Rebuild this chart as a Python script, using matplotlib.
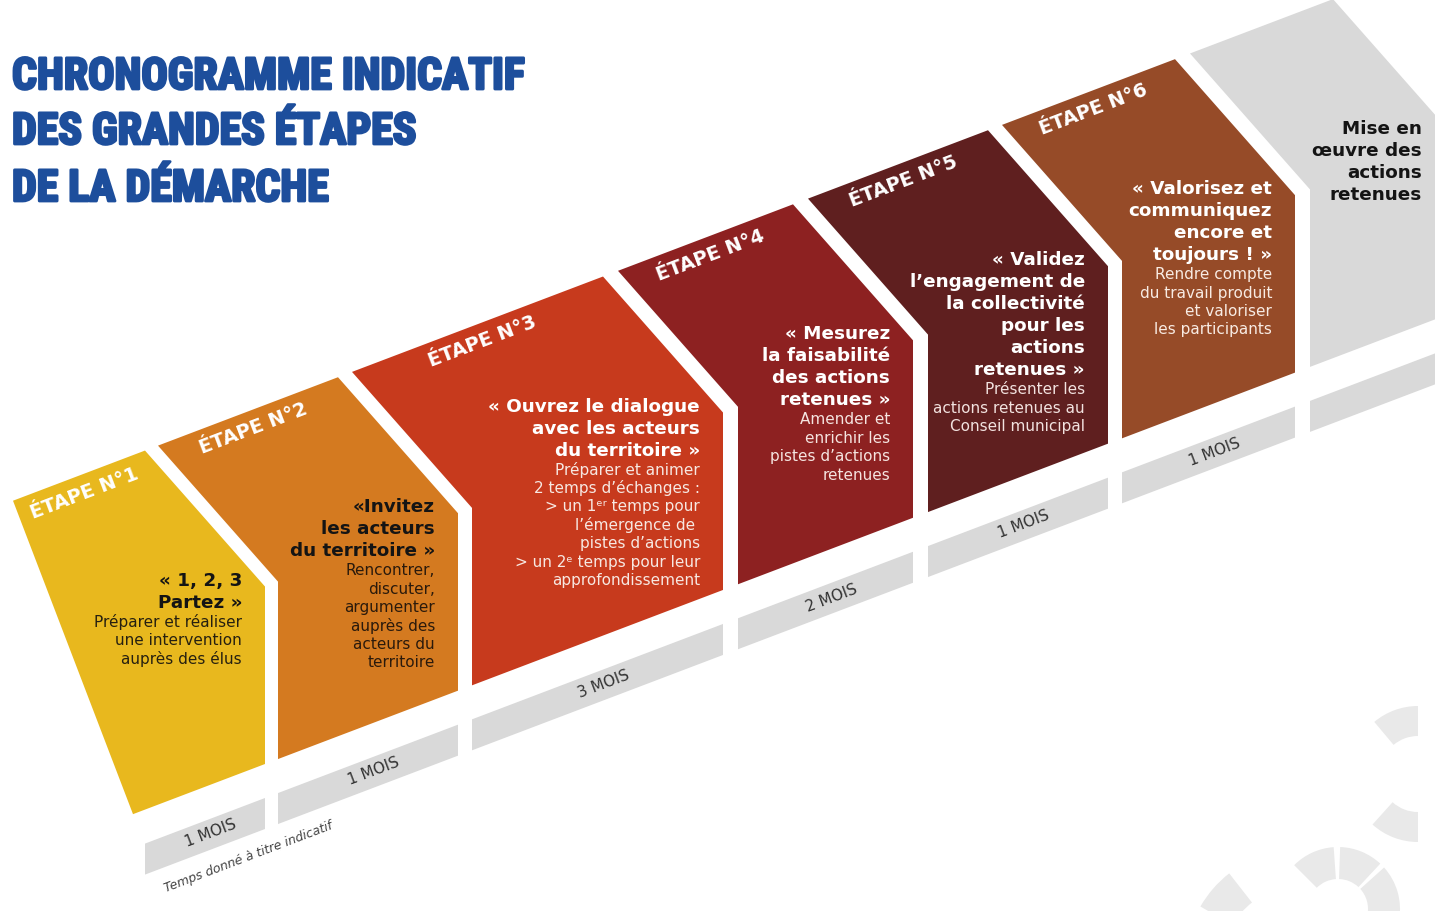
import math
import matplotlib
matplotlib.use("Agg")
import matplotlib.pyplot as plt
from matplotlib import font_manager as fm
from matplotlib.patches import Polygon, Wedge
import matplotlib.patheffects as pe

# ---------------- data ----------------
title_lines = ["CHRONOGRAMME INDICATIF", "DES GRANDES ÉTAPES", "DE LA DÉMARCHE"]

step_labels = ["ÉTAPE N°1", "ÉTAPE N°2", "ÉTAPE N°3", "ÉTAPE N°4",
               "ÉTAPE N°5", "ÉTAPE N°6", ""]

step_headlines = [
    ["« 1, 2, 3", "Partez »"],
    ["«Invitez", "les acteurs", "du territoire »"],
    ["« Ouvrez le dialogue", "avec les acteurs", "du territoire »"],
    ["« Mesurez", "la faisabilité", "des actions", "retenues »"],
    ["« Validez", "l’engagement de", "la collectivité", "pour les",
     "actions", "retenues »"],
    ["« Valorisez et", "communiquez", "encore et", "toujours ! »"],
    ["Mise en", "œuvre des", "actions", "retenues"],
]

step_details = [
    ["Préparer et réaliser", "une intervention", "auprès des élus"],
    ["Rencontrer,", "discuter,", "argumenter", "auprès des", "acteurs du",
     "territoire"],
    ["Préparer et animer", "2 temps d’échanges :", "> un 1ᵉʳ temps pour",
     "l’émergence de ", "pistes d’actions", "> un 2ᵉ temps pour leur",
     "approfondissement"],
    ["Amender et", "enrichir les", "pistes d’actions", "retenues"],
    ["Présenter les", "actions retenues au", "Conseil municipal"],
    ["Rendre compte", "du travail produit", "et valoriser", "les participants"],
    [],
]

durations_months = [1, 1, 3, 2, 1, 1, None]
duration_unit = "MOIS"
footnote = "Temps donné à titre indicatif"

# ---------------- layout / style ----------------
W, H = 1435, 912
step_left = [13, 278, 472, 738, 928, 1122, 1310]
step_right = [265, 458, 723, 913, 1108, 1295, 1453]
bar_left = [145, 278, 472, 738, 928, 1122, 1310]
step_colors = ["#E8B81E", "#D47A20", "#C73A1D", "#8D2121", "#5F1F1F",
               "#964B28", "#D9D9D9"]
headline_colors = ["#141414", "#141414", "white", "white", "white", "white",
                   "#141414"]
detail_colors = ["#262010", "#2a1a0c", "#f7e8e2", "#f5e4e0", "#f2e2df",
                 "#f8ebe3", "#141414"]
bar_color = "#D9D9D9"
title_color = "#1D4E9C"
deco_color = "#E9E9E9"
title_baselines = [90, 145, 202]
title_target_width = 512

SLOPE = 0.38
ANGLE = math.degrees(math.atan(SLOPE))
DIAG_DX, DIAG_DY = 120, 136
BAR_GAP, BAR_H = 34, 31


def top_y(x):
    return 447 - SLOPE * (x - 157)


def bot_y(x):
    return 765 - SLOPE * (x - 265)


def _w(v):
    if isinstance(v, (int, float)):
        return v
    return {"bold": 700, "heavy": 800, "black": 900, "extra bold": 800,
            "demibold": 600, "semibold": 600}.get(str(v).lower(), 400)


def pick_title_font():
    fl = fm.fontManager.ttflist
    names = {f.name for f in fl}
    for n in ["Roboto Condensed", "Liberation Sans Narrow",
              "Open Sans Condensed", "Noto Sans Condensed"]:
        if n in names:
            return dict(family=[n, "DejaVu Sans"], fontweight="bold",
                        fontstretch="condensed")
    for f in fl:
        if (f.stretch in ("condensed", "semi-condensed", "extra-condensed")
                and _w(f.weight) >= 700):
            return dict(family=[f.name, "DejaVu Sans"], fontweight=_w(f.weight),
                        fontstretch=f.stretch)
    if "Roboto" in names:
        return dict(family=["Roboto", "DejaVu Sans"], fontweight="black")
    return dict(family=["DejaVu Sans"], fontweight="bold")


fig = plt.figure(figsize=(W / 100, H / 100), dpi=100)
ax = fig.add_axes([0, 0, 1, 1])
ax.set_xlim(0, W)
ax.set_ylim(H, 0)
ax.axis("off")

# decorative ring fragments (bottom right)
for (cx, cy, r0, r1, a0, a1) in [
        (1418, 775, 38, 68, 230, 270), (1418, 775, 38, 68, 90, 132),
        (1338, 910, 30, 62, 225, 266), (1338, 910, 30, 62, 272, 313),
        (1338, 910, 30, 62, 318, 370), (1300, 965, 78, 115, 210, 232)]:
    ax.add_patch(Wedge((cx, cy), r1, a0, a1, width=r1 - r0,
                       facecolor=deco_color, edgecolor="none"))

# title (font size fitted to the reference width)
tf = pick_title_font()
renderer = fig.canvas.get_renderer()
probe = ax.text(0, 0, title_lines[0], fontsize=30, **tf)
pw = probe.get_window_extent(renderer).width
probe.remove()
tsize = 30 * title_target_width / pw
for txt, y in zip(title_lines, title_baselines):
    ax.text(12, y, txt, fontsize=tsize, color=title_color, ha="left",
            va="baseline", **tf,
            path_effects=[pe.withStroke(linewidth=2.0, foreground=title_color)])

# steps
for k in range(7):
    L, R = step_left[k], step_right[k]
    trx = R - DIAG_DX
    shoulder = top_y(trx) + DIAG_DY
    if k == 0:
        verts = [(L, top_y(L)), (trx, top_y(trx)), (R, shoulder),
                 (R, bot_y(R)), (133, bot_y(133))]
        tlx = L
    else:
        tlx = L - DIAG_DX
        verts = [(tlx, top_y(tlx)), (trx, top_y(trx)), (R, shoulder),
                 (R, bot_y(R)), (L, bot_y(L)), (L, top_y(tlx) + DIAG_DY)]
    ax.add_patch(Polygon(verts, closed=True, facecolor=step_colors[k],
                         edgecolor="none"))

    # label
    if step_labels[k]:
        lx = (tlx + trx) / 2 + 5
        ax.text(lx, top_y(lx) + 18.5, step_labels[k], fontsize=14,
                fontweight="bold", color="white", rotation=ANGLE,
                rotation_mode="anchor", ha="center", va="center")

    # texts
    xr = min(R, 1445) - 23
    y = shoulder - 7
    for i, line in enumerate(step_headlines[k]):
        ax.text(xr, y, line, fontsize=13.2, fontweight="bold",
                color=headline_colors[k], ha="right", va="center")
        y += 22
    y += 19.5 - 22
    for line in step_details[k]:
        ax.text(xr, y, line, fontsize=11, color=detail_colors[k],
                ha="right", va="center")
        y += 18.4

    # duration bar
    bl = bar_left[k]
    bverts = [(bl, bot_y(bl) + BAR_GAP), (R, bot_y(R) + BAR_GAP),
              (R, bot_y(R) + BAR_GAP + BAR_H), (bl, bot_y(bl) + BAR_GAP + BAR_H)]
    ax.add_patch(Polygon(bverts, closed=True, facecolor=bar_color,
                         edgecolor="none"))
    if durations_months[k] is not None:
        mx = (bl + R) / 2 + 6
        ax.text(mx, bot_y(mx) + BAR_GAP + 14,
                f"{durations_months[k]} {duration_unit}",
                fontsize=11, color="#333333", rotation=ANGLE,
                rotation_mode="anchor", ha="center", va="center")

fx = 248
ax.text(fx, bot_y(fx) + BAR_GAP + BAR_H + 21, footnote, fontsize=9,
        style="italic", color="#444444", rotation=ANGLE,
        rotation_mode="anchor", ha="center", va="center")

fig.savefig("out.png", dpi=100, facecolor="white")
